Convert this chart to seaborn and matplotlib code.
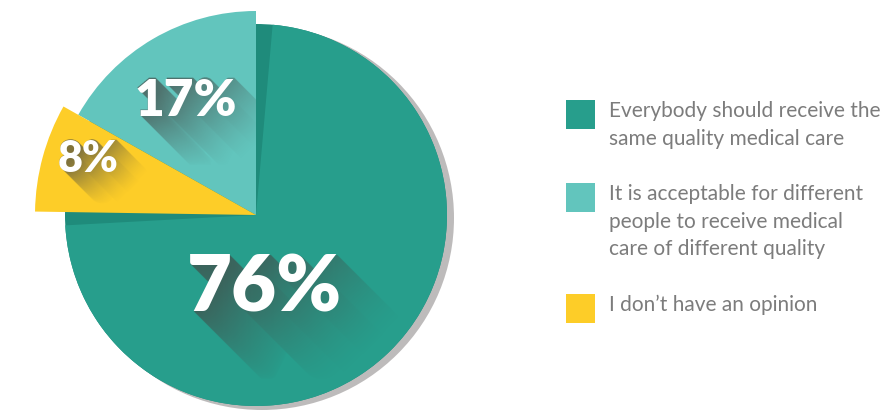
import matplotlib
matplotlib.use("Agg")
import matplotlib.pyplot as plt
from matplotlib.patches import Circle, Rectangle
from matplotlib.textpath import TextPath
from matplotlib.font_manager import FontProperties
from matplotlib.transforms import Affine2D
from matplotlib.colors import to_rgb
import numpy as np
import seaborn as sns

# ---- data ----
categories = [
    "It is acceptable for different\npeople to receive medical\ncare of different quality",
    "I don\u2019t have an opinion",
    "Everybody should receive the\nsame quality medical care",
]
values = [17, 8, 76]
value_labels = ["17%", "8%", "76%"]
legend_order = [2, 0, 1]

sns.set_theme(style="white")
plt.rcParams["font.family"] = ["Lato", "DejaVu Sans"]

colors = ["#62C5BD", "#FDCD28", "#279E8C"]
dark_teal = "#1F8B7B"
shadow_gray = "#BDBBBB"
text_gray = "#7C7C7C"
long_shadow_rgb = to_rgb("#454845")

W, H = 890, 413
DPI = 100
fig = plt.figure(figsize=(W / DPI, H / DPI), dpi=DPI)
ax = fig.add_axes([0, 0, 1, 1])

cx, cy, r = 256, 198, 191

# drop shadow and dark base disc
ax.add_patch(Circle((cx + 6, cy - 3), r + 1, color=shadow_gray, lw=0, zorder=0))
ax.add_patch(Circle((cx, cy), r, color=dark_teal, lw=0, zorder=1))

wedges, _ = ax.pie(values, colors=colors, startangle=90, counterclock=True,
                   radius=r, center=(cx, cy),
                   wedgeprops=dict(linewidth=0, zorder=2))
# lifted small slices are larger; main slice leaves a darker seam
wedges[0].set_radius(204)
wedges[1].set_radius(221)
wedges[2].set_theta1(wedges[2].theta1 + 4)
wedges[2].set_theta2(wedges[2].theta2 - 5)

fp = FontProperties(family=["Lato", "DejaVu Sans"], weight="heavy")


def long_shadow_image(path, n, amax=0.68, ss=3):
    """Long diagonal shadow of a glyph outline, fading down-right."""
    e = path.get_extents()
    xl, xr = e.x0, e.x1 + n
    yb, yt = e.y0 - n, e.y1
    nx = int(np.ceil((xr - xl) * ss))
    ny = int(np.ceil((yt - yb) * ss))
    xs = xl + (np.arange(nx) + 0.5) / ss
    ys = yt - (np.arange(ny) + 0.5) / ss
    X, Y = np.meshgrid(xs, ys)
    g = path.contains_points(np.column_stack([X.ravel(), Y.ravel()])).reshape(ny, nx)
    N = n * ss
    dist = np.full(g.shape, np.inf)
    for d in range(N, 0, -1):
        m = np.zeros_like(g)
        m[d:, d:] = g[:-d, :-d]
        dist[m] = d
    along = np.clip(1 - dist / N, 0, 1)
    q = (X - e.x0) + (e.y1 - Y)
    qa = e.height
    qb = e.width + e.height + n
    glob = np.clip(1 - (q - qa) / (qb - qa), 0, 1)
    a = amax * np.sqrt(along) * glob
    rgba = np.zeros((ny, nx, 4))
    rgba[..., :3] = long_shadow_rgb
    rgba[..., 3] = a
    return rgba, (xl, xl + nx / ss, yt - ny / ss, yt)


# label centre (px), font size (pt), shadow length (px)
label_pos = [(186, 316, 37, 50), (88, 257, 31, 32), (265, 130, 56, 68)]
for k, (lab, (x, y, fs, n)) in enumerate(zip(value_labels, label_pos)):
    size_px = fs * DPI / 72
    tp = TextPath((0, 0), lab, size=size_px, prop=fp)
    ext = tp.get_extents()
    x0 = x - (ext.x0 + ext.x1) / 2
    y0 = y - (ext.y0 + ext.y1) / 2
    placed = Affine2D().translate(x0, y0).transform_path(tp)
    rgba, extent = long_shadow_image(placed, n)
    im = ax.imshow(rgba, extent=extent, origin="upper", interpolation="antialiased",
                   zorder=4)
    im.set_clip_path(wedges[k])
    ax.text(x0, y0, lab, ha="left", va="baseline", color="white",
            fontproperties=fp, fontsize=fs, zorder=5)

# legend
sq = 29
sq_tops = [100, 183, 294]
for k, top in zip(legend_order, sq_tops):
    ax.add_patch(Rectangle((566, H - top - sq), sq, sq, color=colors[k], lw=0, zorder=3))
    ax.text(609, H - top - 1, categories[k], ha="left", va="top", color=text_gray,
            fontsize=15, fontweight="normal", linespacing=1.48)

ax.set_xlim(0, W)
ax.set_ylim(0, H)
ax.set_aspect("equal")
ax.axis("off")

fig.savefig("out.png", dpi=DPI)
